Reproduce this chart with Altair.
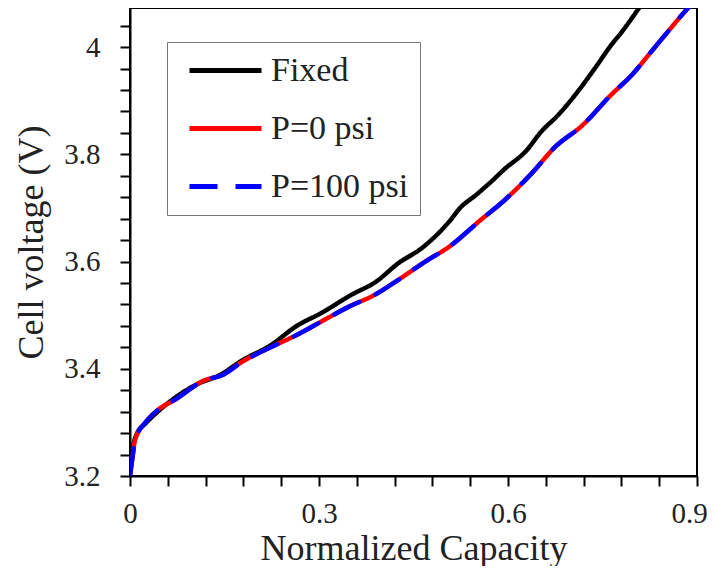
import altair as alt
import pandas as pd

# Fixed
fixed_x = [0.0, 0.0036, 0.011, 0.0255, 0.044, 0.069, 0.106, 0.142, 0.1785, 0.222,
           0.266, 0.302, 0.353, 0.39, 0.426, 0.463, 0.507, 0.524, 0.55, 0.576,
           0.594, 0.63, 0.651, 0.681, 0.71, 0.74, 0.762, 0.783, 0.802, 0.812]
fixed_y = [3.2, 3.245, 3.279, 3.299, 3.32, 3.344, 3.371, 3.388, 3.416, 3.443,
           3.481, 3.503, 3.539, 3.562, 3.597, 3.625, 3.675, 3.700, 3.725, 3.752,
           3.772, 3.808, 3.84, 3.875, 3.916, 3.964, 4.001, 4.032, 4.063, 4.08]

# P=0 psi
p0_x = [0.0, 0.004, 0.008, 0.024, 0.044, 0.071, 0.119, 0.146, 0.178, 0.225,
        0.266, 0.305, 0.346, 0.39, 0.426, 0.47, 0.507, 0.557, 0.594, 0.638,
        0.674, 0.718, 0.762, 0.798, 0.827, 0.856, 0.886, 0.892]
p0_y = [3.2, 3.235, 3.267, 3.299, 3.323, 3.342, 3.379, 3.388, 3.413, 3.441,
        3.464, 3.489, 3.515, 3.539, 3.566, 3.601, 3.628, 3.678, 3.714, 3.765,
        3.813, 3.854, 3.909, 3.95, 3.991, 4.032, 4.073, 4.08]

# P=100 psi
p100_x = [0.0, 0.004, 0.008, 0.024, 0.044, 0.071, 0.119, 0.146, 0.178, 0.225,
          0.266, 0.305, 0.346, 0.39, 0.426, 0.47, 0.507, 0.557, 0.594, 0.638,
          0.674, 0.718, 0.762, 0.798, 0.827, 0.856, 0.886, 0.892]
p100_y = [3.2, 3.235, 3.267, 3.299, 3.323, 3.342, 3.379, 3.388, 3.413, 3.441,
          3.464, 3.489, 3.515, 3.539, 3.566, 3.601, 3.628, 3.678, 3.714, 3.765,
          3.813, 3.854, 3.909, 3.95, 3.991, 4.032, 4.073, 4.08]

series_names = ["Fixed", "P=0 psi", "P=100 psi"]
series_colors = ["#000000", "#ff0000", "#0000ff"]

x_ticks = [round(0.06 * i, 2) for i in range(16)]
y_ticks = [round(3.2 + 0.04 * i, 2) for i in range(22)]

rows = []
for name, xs, ys in [("Fixed", fixed_x, fixed_y), ("P=0 psi", p0_x, p0_y), ("P=100 psi", p100_x, p100_y)]:
    for i, (a, b) in enumerate(zip(xs, ys)):
        rows.append({"series": name, "cap": a, "v": b, "idx": i})
df = pd.DataFrame(rows)

FONT = "Liberation Serif"

x_enc = alt.X("cap:Q", scale=alt.Scale(domain=[0, 0.9], nice=False),
              axis=alt.Axis(title="Normalized Capacity", values=x_ticks,
                            labelExpr="abs(round(datum.value/0.3) - datum.value/0.3) < 0.001 ? format(datum.value, '~g') : ''",
                            grid=False, labelPadding=13, labelFlush=False,
                            labelOffset={"condition": {"test": "datum.value > 0.85", "value": -8}, "value": 0},
                            titleY=83, titleBaseline="alphabetic"))
y_enc = alt.Y("v:Q", scale=alt.Scale(domain=[3.2, 4.073], nice=False, zero=False),
              axis=alt.Axis(title="Cell voltage (V)", values=y_ticks,
                            labelExpr="abs(round(datum.value*5) - datum.value*5) < 0.001 ? format(datum.value, '~g') : ''",
                            grid=False, labelPadding=20, labelFlush=False,
                            titleX=-99, titleBaseline="middle"))
color_enc = alt.Color("series:N", scale=alt.Scale(domain=series_names, range=series_colors),
                      legend=alt.Legend(title=None))
dash_enc = alt.StrokeDash("series:N",
                          scale=alt.Scale(domain=series_names, range=[[1, 0], [1, 0], [28, 18]]),
                          legend=alt.Legend(title=None))

layers = []
for name in series_names:
    layers.append(
        alt.Chart(df).transform_filter(alt.datum.series == name)
        .mark_line(strokeWidth=4.5, clip=True, interpolate="monotone",
                   strokeCap="round" if name == "P=100 psi" else "butt")
        .encode(x=x_enc, y=y_enc, color=color_enc, strokeDash=dash_enc, order="idx:Q")
    )

chart = alt.layer(*layers).properties(
    width=567, height=468,
    autosize=alt.AutoSizeParams(type="none"),
    padding={"left": 122, "top": 0, "right": 11, "bottom": 90},
).configure_view(
    stroke="black", strokeWidth=2
).configure_axis(
    domainColor="black", domainWidth=2, tickColor="black", tickWidth=2, tickSize=10,
    labelFont=FONT, labelFontSize=29, labelColor="#222", titleFont=FONT, titleFontSize=36,
    titleFontWeight="normal", titleColor="#222"
).configure_legend(
    orient="none", legendX=37, legendY=34, strokeColor="#777", fillColor="white",
    padding=11, labelFont=FONT, labelFontSize=34, labelColor="#222",
    symbolType="M-2.4,0L2.4,0", symbolStrokeWidth=5, symbolSize=900,
    symbolOffset=30, labelOffset=28, rowPadding=23
)

chart.save("out.html", embed_options={"renderer": "svg", "actions": False})
